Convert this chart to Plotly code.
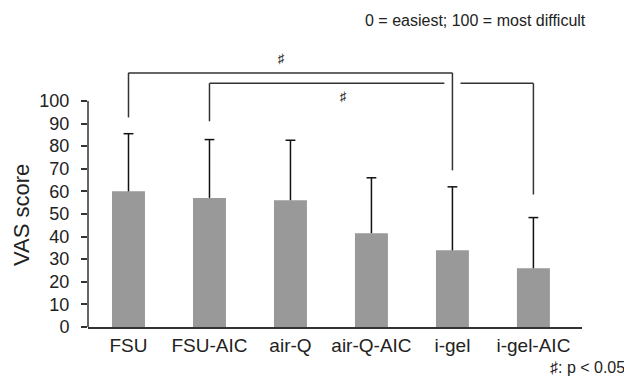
import plotly.graph_objects as go

categories = ["FSU", "FSU-AIC", "air-Q", "air-Q-AIC", "i-gel", "i-gel-AIC"]
means = [60.0, 57.1, 56.1, 41.5, 33.9, 26.0]
sds = [25.5, 25.8, 26.5, 24.5, 28.1, 22.4]
y_ticks = [0, 10, 20, 30, 40, 50, 60, 70, 80, 90, 100]

# significance comparisons: (left idx, right idx, bar level, left leg end, right leg end)
comparisons = [
    (0, 4, 112.4, 92.7, 69.3),
    (1, 5, 107.8, 91.0, 58.6),
]
sig_mark = "\u266f"

FONT = "Liberation Sans, Arial, Helvetica, sans-serif"
LINE = "#333333"
TXT = "#222222"

fig = go.Figure()
fig.add_trace(go.Bar(
    x=categories, y=means,
    marker=dict(color="#999999", line=dict(width=0)),
    showlegend=False, hoverinfo="skip",
))

# one-sided (upper) error bars: stem + top cap
err_x, err_y = [], []
for c, m, s in zip(categories, means, sds):
    err_x += [c, c, None]
    err_y += [m, m + s, None]
fig.add_trace(go.Scatter(
    x=err_x, y=err_y, mode="lines",
    line=dict(color="#111111", width=1.5),
    showlegend=False, hoverinfo="skip",
))
fig.add_trace(go.Scatter(
    x=categories, y=[m + s for m, s in zip(means, sds)], mode="markers",
    marker=dict(symbol="line-ew", size=7, line=dict(color="#111111", width=1.5)),
    showlegend=False, hoverinfo="skip",
))

shapes = []
# y-axis line only up to 100
shapes.append(dict(type="line", xref="paper", yref="y", x0=0, x1=0,
                   y0=0, y1=max(y_ticks), line=dict(color=LINE, width=1.5)))
gap = 0.1
for k, (a, b, lvl, la, lb) in enumerate(comparisons):
    shapes.append(dict(type="line", xref="x", yref="y", x0=a, x1=a,
                       y0=la, y1=lvl, line=dict(color=LINE, width=1.5)))
    shapes.append(dict(type="line", xref="x", yref="y", x0=b, x1=b,
                       y0=lb, y1=lvl, line=dict(color=LINE, width=1.5)))
    # horizontal, with a gap where it crosses other bracket legs
    crossings = [c[1] for j, c in enumerate(comparisons) if j != k and a < c[1] < b]
    segs = []
    start = a
    for cx in sorted(crossings):
        segs.append((start, cx - gap))
        start = cx + gap
    segs.append((start, b))
    for s0, s1 in segs:
        shapes.append(dict(type="line", xref="x", yref="y", x0=s0, x1=s1,
                           y0=lvl, y1=lvl, line=dict(color=LINE, width=1.5)))

annotations = [
    dict(text=sig_mark, x=1.89, y=comparisons[0][2],
         xref="x", yref="y", yanchor="bottom", showarrow=False,
         font=dict(size=13, color=TXT, family=FONT), yshift=5),
    dict(text=sig_mark, x=2.65, y=comparisons[1][2],
         xref="x", yref="y", yanchor="top", showarrow=False,
         font=dict(size=13, color=TXT, family=FONT), yshift=-4),
    dict(text="0 = easiest; 100 = most difficult", x=1.012, y=1.18,
         xref="paper", yref="paper", xanchor="right", yanchor="middle",
         showarrow=False, font=dict(size=16, color=TXT, family=FONT)),
    dict(text=sig_mark + ": p < 0.05", x=1.091, y=-0.155,
         xref="paper", yref="paper", xanchor="right", yanchor="middle",
         showarrow=False, font=dict(size=16, color=TXT, family=FONT)),
    dict(text="VAS score", x=-0.136, y=0.43, xref="paper", yref="paper",
         textangle=-90, xanchor="center", yanchor="middle", showarrow=False,
         font=dict(size=22, color=TXT, family=FONT)),
]

fig.update_layout(
    width=624, height=379,
    margin=dict(l=80, r=50, t=59, b=60),
    paper_bgcolor="white", plot_bgcolor="white",
    bargap=0.593,
    font=dict(family=FONT, color=TXT, size=18),
    shapes=shapes, annotations=annotations,
    xaxis=dict(range=[-0.5, 5.6], showline=True, linecolor=LINE, linewidth=1.5,
               ticks="", showgrid=False, zeroline=False,
               tickfont=dict(size=19, family=FONT, color=TXT)),
    yaxis=dict(range=[0, 115], tickvals=y_ticks, showline=False, ticks="outside",
               ticklen=6, tickcolor=LINE, tickwidth=1.5, showgrid=False,
               zeroline=False, ticklabelstandoff=8,
               tickfont=dict(size=18, family=FONT, color=TXT)),
)

fig.write_html("out.html")
